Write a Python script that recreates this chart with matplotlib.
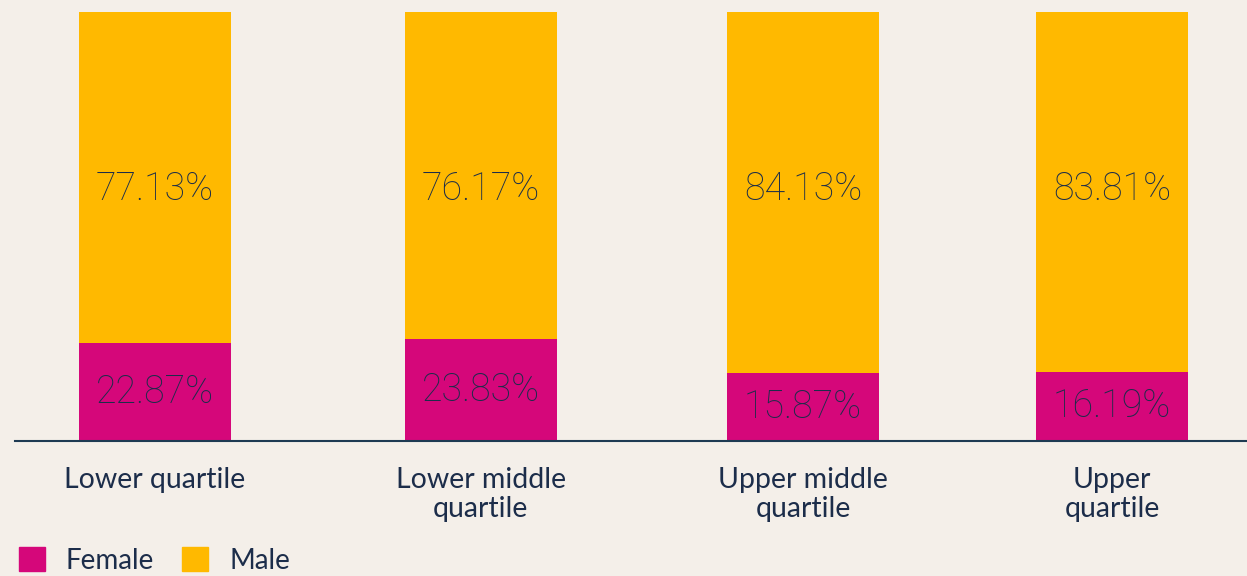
import matplotlib.pyplot as plt
from matplotlib.patches import Patch

categories = ['Lower quartile', 'Lower middle\nquartile', 'Upper middle\nquartile', 'Upper\nquartile']
female = [22.87, 23.83, 15.87, 16.19]
male = [77.13, 76.17, 84.13, 83.81]

positions = [0, 1, 1.988, 2.936]
bg = '#f4efe9'
pink = '#d5077a'
gold = '#ffb900'
navy = '#1c2d4a'

plt.rcParams['font.family'] = ['Lato', 'DejaVu Sans']

fig = plt.figure(figsize=(12.47, 5.76), dpi=100, facecolor=bg)
ax = fig.add_axes([0.012, 0.2344, 0.988, 0.979 - 0.2344])
ax.set_facecolor(bg)

ax.bar(positions, female, width=0.466, color=pink)
ax.bar(positions, male, width=0.466, bottom=female, color=gold)

for x, f, m in zip(positions, female, male):
    ax.text(x, f / 2, f'{f:.2f}%', ha='center', va='center', family='Roboto',
            fontsize=27, fontweight='light', color=navy)
    ax.text(x, 58.7, f'{m:.2f}%', ha='center', va='center', family='Roboto',
            fontsize=27, fontweight='light', color=navy)

ax.set_xlim(-0.429, 3.350)
ax.set_ylim(0, 100)
ax.set_xticks(positions)
ax.set_xticklabels(categories, fontsize=20.5, color=navy, linespacing=1.12)
ax.tick_params(axis='x', length=0, pad=19)
ax.set_yticks([])
for s in ['top', 'right', 'left']:
    ax.spines[s].set_visible(False)
ax.spines['bottom'].set_color('#1e3a52')
ax.spines['bottom'].set_linewidth(1.5)

handles = [Patch(color=pink, label='Female'), Patch(color=gold, label='Male')]
fig.legend(handles=handles, loc='center left', bbox_to_anchor=(0.015, 0.027),
           ncol=2, frameon=False, fontsize=20, handlelength=0.95, handleheight=0.95,
           handletextpad=0.75, columnspacing=1.0, borderpad=0, borderaxespad=0,
           labelcolor=navy)

plt.savefig('out.png', dpi=100, facecolor=bg)
